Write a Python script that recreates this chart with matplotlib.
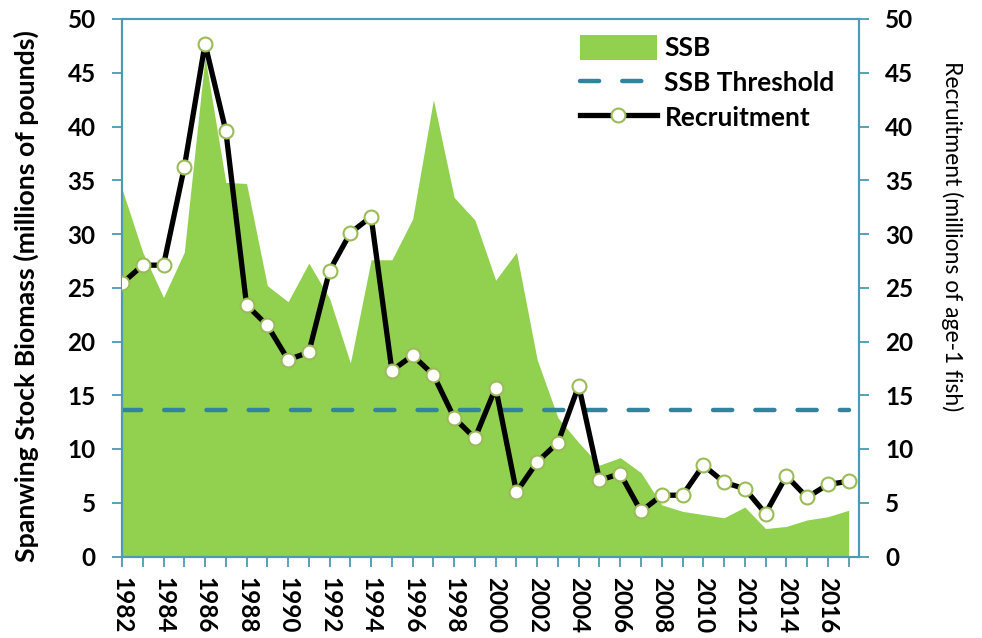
import matplotlib
matplotlib.use("Agg")
import matplotlib.pyplot as plt
from matplotlib.lines import Line2D
from matplotlib.patches import Patch

plt.rcParams["font.family"] = ["Lato", "DejaVu Sans"]

# data
years = list(range(1982, 2018))
ssb = [34.2, 28.3, 24.1, 28.3, 46.5, 34.8, 34.7, 25.2, 23.7, 27.3,
       24.0, 18.0, 27.6, 27.6, 31.4, 42.5, 33.4, 31.3, 25.7, 28.3,
       18.3, 12.9, 10.6, 8.5, 9.2, 7.8, 4.8, 4.2, 3.9, 3.6,
       4.6, 2.6, 2.8, 3.4, 3.7, 4.3]
recruitment = [25.4, 27.1, 27.1, 36.2, 47.7, 39.6, 23.4, 21.5, 18.3, 19.0,
               26.6, 30.1, 31.6, 17.3, 18.7, 16.9, 12.9, 11.0, 15.7, 6.0,
               8.8, 10.6, 15.9, 7.1, 7.7, 4.2, 5.7, 5.7, 8.5, 6.9,
               6.3, 4.0, 7.5, 5.5, 6.7, 7.0]
ssb_threshold = 13.6
y_ticks = list(range(0, 55, 5))

GREEN = "#92D050"
TEAL = "#31849B"
AXIS = "#4A9BB3"
MARKER_EDGE = "#9BBB59"

fig = plt.figure(figsize=(9.82, 6.38), dpi=100)
ax = fig.add_axes([122 / 982, 1 - 556.5 / 638, (859 - 122) / 982, (556.5 - 19) / 638])

ax.fill_between(years, ssb, 0, color=GREEN, linewidth=0, zorder=1)
ax.plot([years[0], years[-1]], [ssb_threshold, ssb_threshold], color=TEAL,
        linewidth=3.2, linestyle=(0, (4.3, 5.2)), dash_capstyle="round", zorder=2)

ax2 = ax.twinx()
ax2.plot(years, recruitment, color="black", linewidth=3.8, marker="o",
         markersize=10, markerfacecolor="white", markeredgecolor=MARKER_EDGE,
         markeredgewidth=1.5, zorder=3)

ax.set_xlim(1982, 2017.5)
ax.set_ylim(0, 50)
ax2.set_ylim(0, 50)
ax.set_yticks(y_ticks)
ax2.set_yticks(y_ticks)
ax.set_xticks(years)
ax.set_xticklabels([str(y) if y % 2 == 0 else "" for y in years],
                   rotation=-90, fontsize=17.5, fontweight="bold")

for a in (ax, ax2):
    for s in a.spines.values():
        s.set_color(AXIS)
        s.set_linewidth(1.5)
    a.tick_params(axis="both", color=AXIS, length=7, width=1.3)
ax.tick_params(axis="y", labelsize=17.5, pad=12)
ax.tick_params(axis="x", pad=8)
ax2.tick_params(axis="y", labelsize=17.5, pad=12)
for lbl in ax.get_yticklabels() + ax2.get_yticklabels():
    lbl.set_fontweight("bold")

ax.set_ylabel("Spanwing Stock Biomass (millions of pounds)", fontsize=19.3,
              fontweight="bold")
ax.yaxis.set_label_coords(-0.112, 0.485)
fig.text(952 / 982, 1 - 236 / 638, "Recruitment (millions of age-1 fish)",
         rotation=270, fontsize=16.5, ha="center", va="center")

handles = [
    Patch(facecolor=GREEN, edgecolor="none", label="SSB"),
    Line2D([], [], color=TEAL, linewidth=3.2, linestyle=(0, (4.3, 5.2)),
           dash_capstyle="round", label="SSB Threshold"),
    Line2D([], [], color="black", linewidth=3.8, marker="o", markersize=10,
           markerfacecolor="white", markeredgecolor=MARKER_EDGE,
           markeredgewidth=1.5, label="Recruitment"),
]
leg = ax.legend(handles=handles, loc="upper left", bbox_to_anchor=(0.6, 1.0),
                frameon=False, prop={"size": 19, "weight": "bold"},
                handlelength=2.9, handleheight=1.1, labelspacing=0.35,
                handletextpad=0.3, borderaxespad=0.2)
leg.set_zorder(5)

fig.savefig("out.png", dpi=100)
